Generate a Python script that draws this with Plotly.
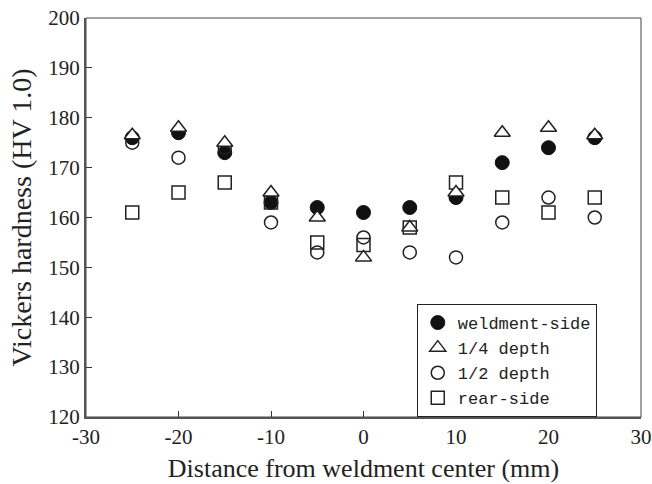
import plotly.graph_objects as go

distance = [-25, -20, -15, -10, -5, 0, 5, 10, 15, 20, 25]
weldment_side = [176, 177, 173, 163, 162, 161, 162, 164, 171, 174, 176]
quarter_depth = [176.5, 178, 175, 165, 160, 152, 158, 165, 177, 178, 176.5]
half_depth = [175, 172, 174, 159, 153, 156, 153, 152, 159, 164, 160]
rear_side = [161, 165, 167, 163, 155, 154.5, 158, 167, 164, 161, 164]

x_ticks = [-30, -20, -10, 0, 10, 20, 30]
y_ticks = [120, 130, 140, 150, 160, 170, 180, 190, 200]

SERIF = "Liberation Serif"

fig = go.Figure()
fig.add_trace(go.Scatter(x=distance, y=weldment_side, mode="markers", name="weldment-side",
                         legendrank=1,
                         marker=dict(symbol="circle", size=14, color="#111111",
                                     line=dict(color="#111111", width=1))))
fig.add_trace(go.Scatter(x=distance, y=rear_side, mode="markers", name="rear-side",
                         legendrank=4,
                         marker=dict(symbol="square", size=13, color="rgba(255,255,255,0)",
                                     line=dict(color="#222222", width=1.5))))
fig.add_trace(go.Scatter(x=distance, y=half_depth, mode="markers", name="1/2 depth",
                         legendrank=3,
                         marker=dict(symbol="circle", size=13, color="rgba(255,255,255,0)",
                                     line=dict(color="#222222", width=1.5))))
fig.add_trace(go.Scatter(x=distance, y=quarter_depth, mode="markers", name="1/4 depth",
                         legendrank=2,
                         marker=dict(symbol="triangle-up", size=14, color="white",
                                     line=dict(color="#222222", width=1.5))))

fig.add_shape(type="rect", xref="paper", yref="paper", x0=0, y0=0, x1=1, y1=1,
              line=dict(color="#444444", width=1), layer="below")

fig.update_layout(
    width=652, height=484,
    margin=dict(l=86, r=11, t=18, b=67, autoexpand=False),
    paper_bgcolor="white", plot_bgcolor="white",
    font=dict(family=SERIF, size=21, color="#222222"),
    showlegend=True,
    legend=dict(x=0.596, y=0.0, xanchor="left", yanchor="bottom",
                bgcolor="white", bordercolor="#222222", borderwidth=1,
                font=dict(family="Liberation Mono", size=17, color="#222222"),
                itemwidth=30, tracegroupgap=0),
)
fig.update_xaxes(range=[-30, 30], tickvals=x_ticks, ticktext=[str(v) for v in x_ticks],
                 automargin=False,
                 tickfont=dict(family=SERIF, size=21, color="#222222"),
                 showgrid=False, zeroline=False, showline=True, linecolor="#555555", linewidth=2,
                 ticks="inside", ticklen=6, tickcolor="#333333", tickwidth=1,
                 title=dict(text="Distance from weldment center (mm)",
                            font=dict(family=SERIF, size=26, color="#222222"), standoff=11))
fig.update_yaxes(range=[120, 200], tickvals=y_ticks, ticktext=[str(v) for v in y_ticks],
                 automargin=False,
                 tickfont=dict(family=SERIF, size=21, color="#222222"),
                 showgrid=False, zeroline=False, showline=True, linecolor="#555555", linewidth=2,
                 ticks="inside", ticklen=6, tickcolor="#333333", tickwidth=1,
                 title=dict(text="Vickers hardness (HV 1.0)",
                            font=dict(family=SERIF, size=28, color="#222222"), standoff=8))

fig.write_html("out.html", config={"displayModeBar": False},
               post_script="document.body.style.margin='0';document.body.style.overflow='hidden';")
